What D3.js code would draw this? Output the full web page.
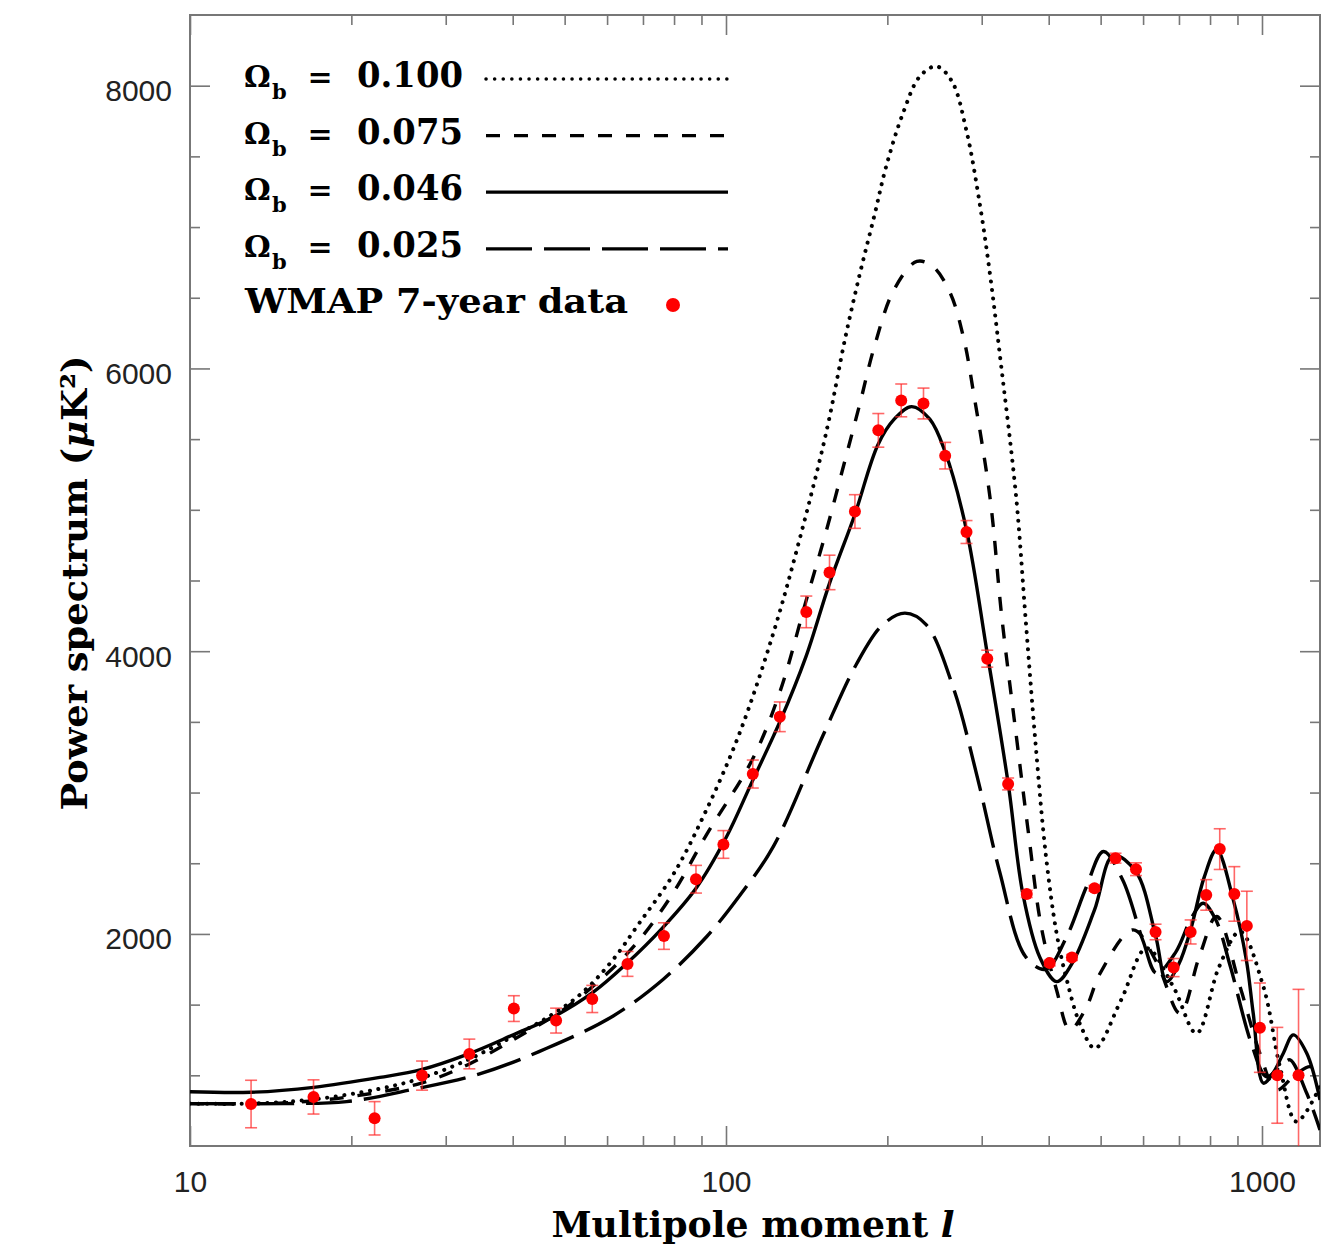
<!DOCTYPE html>
<html>
<head>
<meta charset="utf-8">
<script src="https://cdn.jsdelivr.net/npm/d3@7"></script>
<style>
    body { margin: 0; background: #fff; }
</style>
</head>
<body>
<div id="spectrum"></div>
<script>
// theory curves, [multipole l, power in uK^2]
const omega100 = [[10, 800], [13, 800], [17, 830], [22.6, 905], [27, 980], [33, 1110], [40, 1274], [46, 1400],
    [53.4, 1570], [61, 1800], [69, 2080], [80, 2430], [92, 2880], [106, 3420], [122.6, 4130], [137.4, 4801],
    [154, 5556], [167, 6220], [178, 6680], [189, 7076], [199, 7429], [214, 7807], [230, 8066], [247, 8137],
    [264, 8030], [281, 7680], [298, 7146], [311, 6660], [324, 6109], [348, 5081], [362, 4242], [377, 3402],
    [395, 2563], [414, 2000], [432, 1680], [459, 1350], [488, 1191], [546, 1533], [609, 1899], [683, 1627],
    [755, 1297], [832, 1769], [910, 2017], [1006, 1627], [1080, 1061], [1160, 672], [1283, 920]];

const omega075 = [[10, 800], [15, 805], [20, 850], [27, 945], [33, 1075], [40, 1250], [50, 1470], [60, 1720],
    [69, 1960], [80, 2300], [92, 2703], [112, 3234], [126, 3710], [141, 4354], [154, 4857], [167, 5360],
    [178, 5760], [189, 6150], [206, 6560], [227, 6757], [243, 6722], [262, 6534], [278, 6203], [289, 5850],
    [311, 5081], [327, 4242], [348, 3402], [367, 2703], [387, 2060], [414, 1600], [438, 1321], [470, 1480],
    [499, 1722], [575, 2029], [636, 1800], [703, 1439], [764, 1840], [823, 2123], [910, 1627], [991, 1156],
    [1065, 897], [1150, 1000], [1232, 1061], [1283, 990]];

const omega046 = [[10, 884], [13, 880], [17, 915], [22.6, 985], [27, 1040], [33, 1150], [40, 1285], [48, 1420],
    [56.6, 1590], [65, 1785], [76, 2040], [88, 2325], [100, 2680], [112, 3081], [126, 3500], [141, 3962],
    [156, 4480], [174, 4969], [192, 5459], [206, 5641], [222, 5730], [240, 5641], [256, 5416], [281, 4857],
    [307, 3990], [336, 3067], [358, 2283], [385, 1835], [414, 1663], [442, 1790], [487, 2170], [528, 2555],
    [582, 2440], [633, 1990], [664, 1663], [700, 1790], [736, 2030], [780, 2400], [823, 2595], [884, 2241],
    [935, 1816], [963, 1439], [1006, 944], [1050, 1020], [1096, 1156], [1144, 1286], [1212, 1156], [1283, 826]];

const omega025 = [[10, 800], [15, 800], [19.6, 814], [26, 900], [34.7, 1010], [46.3, 1191], [61.6, 1420],
    [76.4, 1680], [92, 1980], [106, 2270], [122.6, 2619], [151.6, 3402], [175, 3906], [196, 4186], [215.7, 4269],
    [236.5, 4186], [265.7, 3738], [293.8, 3122], [324, 2440], [362, 1840], [395, 1750], [432, 1980], [470, 2330],
    [506, 2583], [550, 2380], [600, 1950], [636, 1722], [690, 1870], [740, 2120], [777, 2217], [820, 2100],
    [873, 1769], [955, 1227], [1020, 990], [1096, 1085], [1128, 1109], [1212, 873], [1283, 614]];

// WMAP 7-year band powers
const wmapL = [13, 17, 22.1, 27.1, 33.2, 40.2, 48.2, 56.3, 65.5, 76.6, 87.9, 98.9, 112.2, 126, 141.2, 156, 174,
    192.4, 212.3, 233.6, 256.4, 281, 307.2, 336, 364, 401.7, 442, 487, 533, 582, 633, 684, 736, 787, 834, 888,
    937, 991, 1068, 1170];
const wmapPower = [797, 847, 696, 998, 1151, 1472, 1387, 1540, 1788, 1985, 2387, 2633, 3131, 3536, 4278, 4557,
    4988, 5562, 5774, 5752, 5383, 4843, 3947, 3061, 2283, 1794, 1833, 2323, 2536, 2458, 2014, 1762, 2014, 2276,
    2600, 2283, 2057, 1337, 1000, 1000];
const wmapErr = [168, 121, 118, 103, 105, 91, 88, 96, 88, 94, 98, 98, 99, 105, 112, 122, 119, 119, 116, 109, 94,
    81, 60, 42, 25, 20, 20, 20, 35, 45, 55, 64, 85, 108, 144, 193, 245, 316, 339, 608];

const legendValues = ["0.100", "0.075", "0.046", "0.025"];
const xMajorTicks = [10, 100, 1000];
const xMinorTicks = [20, 30, 40, 50, 60, 70, 80, 90, 200, 300, 400, 500, 600, 700, 800, 900];
const yMajorTicks = [2000, 4000, 6000, 8000];
const yMinorTicks = [1000, 1500, 2500, 3000, 3500, 4500, 5000, 5500, 6500, 7000, 7500];

const margin = { top: 15, right: 23, bottom: 111, left: 190 };
var width = 1343 - margin.left - margin.right,
    height = 1257 - margin.top - margin.bottom;

const svgRoot = d3.select("#spectrum")
    .append("svg")
    .attr("width", width + margin.left + margin.right)
    .attr("height", height + margin.top + margin.bottom);

const svg = svgRoot.append("g")
    .attr("transform", `translate(${margin.left},${margin.top})`);

const x = d3.scaleLog().domain([10, 1283]).range([0, width]);
const y = d3.scaleLinear().domain([500, 8500]).range([height, 0]);

svgRoot.append("defs").append("clipPath")
    .attr("id", "plotclip")
    .append("rect")
    .attr("width", width)
    .attr("height", height);

// axes: ticks point inward on all four sides
function styleAxis(g) {
    g.select(".domain").remove();
    g.selectAll(".tick line").attr("stroke", "#777").attr("stroke-width", 1.6);
    g.selectAll(".tick text")
        .attr("fill", "#222")
        .style("font-family", "'Liberation Sans', Arial, sans-serif")
        .style("font-size", "30px");
}

svg.append("g")
    .attr("transform", `translate(0, ${height})`)
    .call(d3.axisBottom(x).tickValues(xMajorTicks).tickSize(-20).tickPadding(25).tickFormat(d3.format("d")))
    .call(styleAxis);
svg.append("g")
    .attr("transform", `translate(0, ${height})`)
    .call(d3.axisBottom(x).tickValues(xMinorTicks).tickSize(-10).tickFormat(""))
    .call(styleAxis);
svg.append("g")
    .call(d3.axisTop(x).tickValues(xMajorTicks).tickSize(-20).tickFormat(""))
    .call(styleAxis);
svg.append("g")
    .call(d3.axisTop(x).tickValues(xMinorTicks).tickSize(-10).tickFormat(""))
    .call(styleAxis);

svg.append("g")
    .call(d3.axisLeft(y).tickValues(yMajorTicks).tickSize(-20).tickPadding(18).tickFormat(d3.format("d")))
    .call(styleAxis)
    .selectAll(".tick text").attr("dy", "0.5em");
svg.append("g")
    .call(d3.axisLeft(y).tickValues(yMinorTicks).tickSize(-10).tickFormat(""))
    .call(styleAxis);
svg.append("g")
    .attr("transform", `translate(${width}, 0)`)
    .call(d3.axisRight(y).tickValues(yMajorTicks).tickSize(-20).tickFormat(""))
    .call(styleAxis);
svg.append("g")
    .attr("transform", `translate(${width}, 0)`)
    .call(d3.axisRight(y).tickValues(yMinorTicks).tickSize(-10).tickFormat(""))
    .call(styleAxis);

svg.append("rect")
    .attr("width", width)
    .attr("height", height)
    .attr("fill", "none")
    .attr("stroke", "#777")
    .attr("stroke-width", 2);

// theory curves
const series = [omega100, omega075, omega046, omega025];
const dashes = ["0.1 8.5", "14 14", null, "46 12"];

const line = d3.line()
    .x(function (d) { return x(d[0]); })
    .y(function (d) { return y(d[1]); })
    .curve(d3.curveCatmullRom.alpha(0.5));

const plot = svg.append("g").attr("clip-path", "url(#plotclip)");

plot.selectAll(".curve")
    .data(series)
    .join("path")
    .attr("class", "curve")
    .attr("fill", "none")
    .attr("stroke", "#000")
    .attr("stroke-width", function (d, i) { return i === 0 ? 4 : 3.4 })
    .attr("stroke-linecap", function (d, i) { return i === 0 ? "round" : "butt" })
    .attr("stroke-dasharray", function (d, i) { return dashes[i] })
    .attr("d", line);

// data points with error bars
const errColor = "rgba(255, 40, 40, 0.7)";
const pts = plot.selectAll(".pt")
    .data(wmapL)
    .join("g")
    .attr("class", "pt");

pts.append("line")
    .attr("x1", function (d) { return x(d) })
    .attr("x2", function (d) { return x(d) })
    .attr("y1", function (d, i) { return y(wmapPower[i] - wmapErr[i]) })
    .attr("y2", function (d, i) { return y(wmapPower[i] + wmapErr[i]) })
    .attr("stroke", errColor)
    .attr("stroke-width", 1.6);

[-1, 1].forEach(function (s) {
    pts.append("line")
        .attr("x1", function (d) { return x(d) - 6 })
        .attr("x2", function (d) { return x(d) + 6 })
        .attr("y1", function (d, i) { return y(wmapPower[i] + s * wmapErr[i]) })
        .attr("y2", function (d, i) { return y(wmapPower[i] + s * wmapErr[i]) })
        .attr("stroke", errColor)
        .attr("stroke-width", 1.6);
});

pts.append("circle")
    .attr("cx", function (d) { return x(d) })
    .attr("cy", function (d, i) { return y(wmapPower[i]) })
    .attr("r", 6)
    .attr("fill", "#ff0000");

// legend
const serif = "'DejaVu Serif', 'Liberation Serif', serif";
const legend = svgRoot.append("g");

legendValues.forEach(function (v, i) {
    const base = 87 + i * 56.6;
    legend.append("text")
        .attr("x", 244).attr("y", base)
        .style("font-family", serif).style("font-weight", "bold").style("font-size", "30px")
        .text("Ω");
    legend.append("text")
        .attr("x", 272).attr("y", base + 12)
        .style("font-family", serif).style("font-weight", "bold").style("font-size", "21px")
        .text("b");
    legend.append("text")
        .attr("x", 320).attr("y", base)
        .attr("text-anchor", "middle")
        .style("font-family", serif).style("font-weight", "bold").style("font-size", "30px")
        .text("=");
    legend.append("text")
        .attr("x", 357).attr("y", base)
        .attr("textLength", 106).attr("lengthAdjust", "spacingAndGlyphs")
        .style("font-family", serif).style("font-weight", "bold").style("font-size", "35px")
        .text(v);
    legend.append("line")
        .attr("x1", 486).attr("x2", 728)
        .attr("y1", base - 8).attr("y2", base - 8)
        .attr("stroke", "#000")
        .attr("stroke-width", i === 0 ? 3.5 : 3.2)
        .attr("stroke-linecap", i === 0 ? "round" : "butt")
        .attr("stroke-dasharray", dashes[i]);
});

legend.append("text")
    .attr("x", 245).attr("y", 313)
    .attr("textLength", 383).attr("lengthAdjust", "spacingAndGlyphs")
    .style("font-family", serif).style("font-weight", "bold").style("font-size", "33px")
    .text("WMAP 7-year data");
legend.append("circle")
    .attr("cx", 673).attr("cy", 305).attr("r", 7)
    .attr("fill", "#ff0000");

// axis titles
const xTitle = svgRoot.append("text")
    .attr("x", 753).attr("y", 1237)
    .attr("text-anchor", "middle")
    .attr("textLength", 403).attr("lengthAdjust", "spacingAndGlyphs")
    .style("font-family", serif).style("font-weight", "bold").style("font-size", "35px");
xTitle.append("tspan").text("Multipole moment ");
xTitle.append("tspan").style("font-style", "italic").text("l");

const yTitle = svgRoot.append("text")
    .attr("transform", "translate(87, 583) rotate(-90)")
    .attr("text-anchor", "middle")
    .attr("textLength", 455).attr("lengthAdjust", "spacingAndGlyphs")
    .style("font-family", serif).style("font-weight", "bold").style("font-size", "36px");
yTitle.append("tspan").text("Power spectrum (");
yTitle.append("tspan").style("font-style", "italic").text("μ");
yTitle.append("tspan").text("K²)");
</script>
</body>
</html>
